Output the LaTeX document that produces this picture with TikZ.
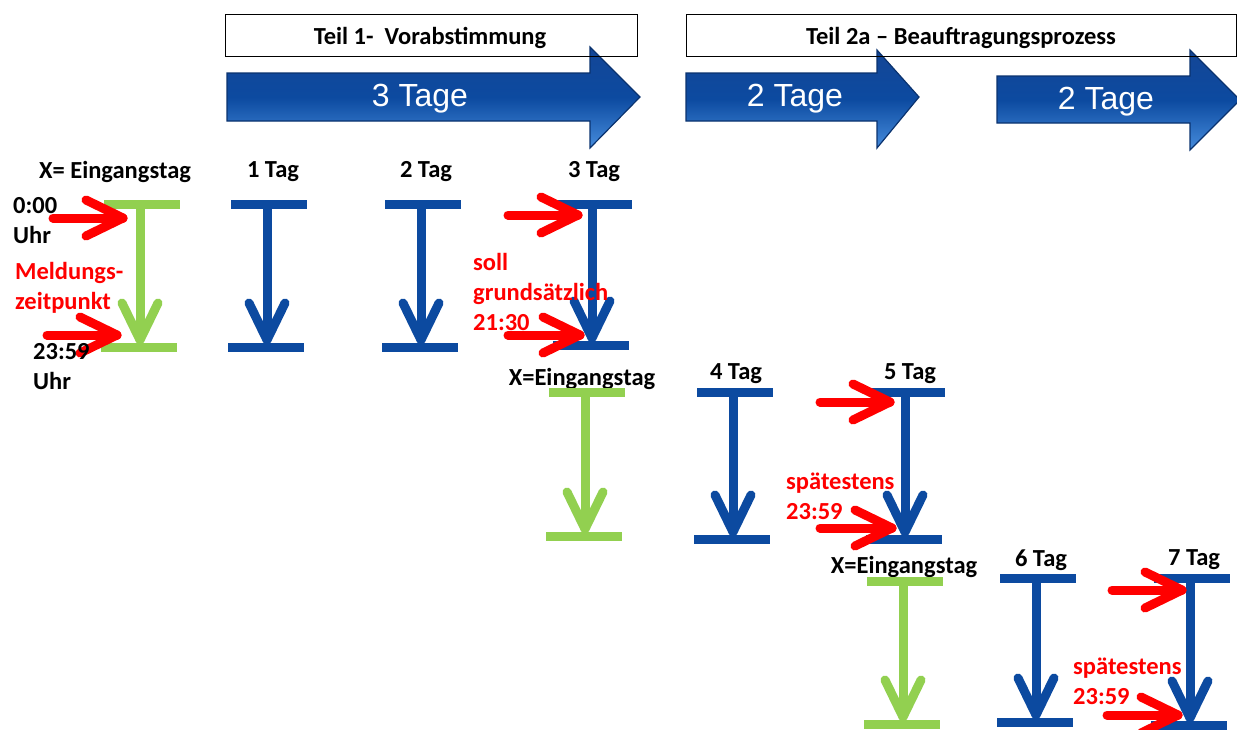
\documentclass[tikz,border=0pt]{standalone}
\usepackage{fontspec}
\setmainfont{Carlito}
\newfontfamily\arialf{Liberation Sans}
\definecolor{tgreen}{RGB}{146,208,80}
\definecolor{tblue}{RGB}{12,74,160}
\definecolor{tred}{RGB}{255,0,0}
\definecolor{adark}{RGB}{20,70,150}
\definecolor{alight}{RGB}{70,140,220}
\definecolor{aedge}{RGB}{10,50,110}
\tikzset{
  barline/.style={line width=9pt},
  stemline/.style={line width=9pt},
  chevline/.style={line width=9pt, line cap=round, line join=round},
  redarrow/.style={tred, line width=9pt, line cap=round, line join=round},
  lbl/.style={font=\bfseries\fontsize{24.5}{30}\selectfont, inner sep=0pt},
  redlbl/.style={lbl, text=tred, align=left, anchor=north west},
  blklbl/.style={lbl, align=left, anchor=north west},
  headbox/.style={draw=black, line width=0.8pt},
  bigarrow/.style={top color=adark, bottom color=alight, middle color=tblue, draw=aedge, line width=1.2pt},
  bigtext/.style={text=white, font=\arialf\fontsize{32}{38}\selectfont, inner sep=0pt}
}
% timeline: #1 name, #2 x, #3 ytop, #4 ybot, #5 colour
\newcommand\tline[5]{%
  \coordinate (#1-t) at (#2,#3);
  \coordinate (#1-b) at (#2,#4);
  \draw[barline,#5] (#1-t) ++(-36,0) -- ++(76,0);
  \draw[barline,#5] (#1-b) ++(-39,0) -- ++(76,0);
  \draw[stemline,#5] (#1-t) -- ($(#1-b)+(0,-8)$);
  \draw[chevline,#5] ($(#1-b)+(-18,-44)$) -- ($(#1-b)+(0,-7)$) -- ($(#1-b)+(18,-44)$);
}
% red arrow: #1 name, #2 tip x, #3 y, #4 start x
\newcommand\rarrow[4]{%
  \coordinate (#1-s) at (#4,#3);
  \coordinate (#1-e) at (#2,#3);
  \draw[redarrow] (#1-s) -- (#1-e);
  \draw[redarrow] ($(#1-e)+(-37,-18)$) -- (#1-e) -- ($(#1-e)+(-37,18)$);
}
\usetikzlibrary{calc}
\begin{document}
\begin{tikzpicture}[x=1pt,y=-1pt]
\useasboundingbox (0,0) rectangle (1237,729);
% header boxes (fill)
\fill[white] (225,14) rectangle (637,56);
\fill[white] (686,14) rectangle (1240,56);
% big arrows
\path[bigarrow] (227,73) -- (590,73) -- (590,47) -- (640,97) -- (590,148) -- (590,121) -- (227,121) -- cycle;
\path[bigarrow] (686,73) -- (877,73) -- (877,50) -- (919,97) -- (877,148) -- (877,121) -- (686,121) -- cycle;
\path[bigarrow] (997,76) -- (1190,76) -- (1190,50) -- (1240,100) -- (1190,150) -- (1190,123) -- (997,123) -- cycle;
\node[bigtext] (a1) at (420,99) {3 Tage};
\node[bigtext] (a2) at (795,99) {2 Tage};
\node[bigtext] (a3) at (1106,102) {2 Tage};
% header boxes (border + text)
\draw[headbox] (225,14) rectangle (637,56);
\draw[headbox] (686,14) -- (1236.6,14) -- (1236.6,56) -- (686,56) -- cycle;
\node[lbl] (h1) at (430,38) {Teil 1-\ \ Vorabstimmung};
\node[lbl] (h2) at (961,38) {Teil 2a -- Beauftragungsprozess};
% day labels
\node[lbl] (d0) at (115,172) {X= Eingangstag};
\node[lbl] (d1) at (273,172) {1 Tag};
\node[lbl] (d2) at (426,172) {2 Tag};
\node[lbl] (d3) at (594,172) {3 Tag};
\node[lbl] (d4) at (582,379) {X=Eingangstag};
\node[lbl] (d5) at (736,374) {4 Tag};
\node[lbl] (d6) at (910,374) {5 Tag};
\node[lbl] (d7) at (904,567) {X=Eingangstag};
\node[lbl] (d8) at (1041,560) {6 Tag};
\node[lbl] (d9) at (1194,560) {7 Tag};
% timelines
\tline{t1}{140}{204}{347}{tgreen}
\tline{t2}{267}{204}{347}{tblue}
\tline{t3}{421}{204}{347}{tblue}
\tline{t4}{592}{204}{345}{tblue}
\tline{t5}{585}{392}{536}{tgreen}
\tline{t6}{733}{392}{539}{tblue}
\tline{t7}{905}{392}{539}{tblue}
\tline{t8}{903}{581}{724}{tgreen}
\tline{t9}{1036}{578}{722}{tblue}
\tline{t10}{1190}{578}{725}{tblue}
% side labels
\node[blklbl] (l1) at (13,197) {0:00\\Uhr};
\node[redlbl] (l2) at (15,262) {Meldungs-\\zeitpunkt};
% red arrows
\rarrow{r1}{123}{218}{53}
\rarrow{r2}{117}{335}{47}
\rarrow{r3}{578}{215}{508}
\rarrow{r4}{580}{335}{508}
\rarrow{r5}{890}{402}{820}
\rarrow{r6}{892}{528}{820}
\rarrow{r7}{1182}{590}{1112}
\rarrow{r8}{1178}{715}{1107}
\node[blklbl] (l3) at (33,343) {23:59\\Uhr};
\node[redlbl] (l4) at (473,253) {soll\\grunds\"atzlich\\21:30};
\node[redlbl] (l5) at (786,473) {sp\"atestens\\23:59};
\node[redlbl] (l6) at (1073,658) {sp\"atestens\\23:59};
\end{tikzpicture}
\end{document}
